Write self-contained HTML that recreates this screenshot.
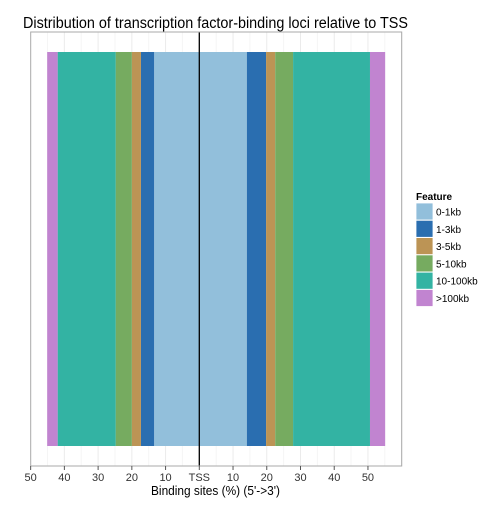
<!DOCTYPE html>
<html><head><meta charset="utf-8"><style>
body{margin:0;background:#fff;font-family:"Liberation Sans",Arial,sans-serif;}
svg text{font-family:"Liberation Sans",Arial,sans-serif;}
</style></head><body>
<svg id="c" width="504" height="504" xmlns="http://www.w3.org/2000/svg"></svg>
<script>
const features=["0-1kb","1-3kb","3-5kb","5-10kb","10-100kb",">100kb"];
const colors=["#92bfdb","#2a6eb0","#bc9455","#76ab60","#33b3a3","#c184d0"];
const upstream=[13.4,3.9,2.7,4.8,17.2,3.1];
const downstream=[14.1,5.7,2.7,5.3,22.8,4.5];
const tickVals=[-50,-40,-30,-20,-10,0,10,20,30,40,50];
const tickLabels=["50","40","30","20","10","TSS","10","20","30","40","50"];
const NS="http://www.w3.org/2000/svg";
const svg=document.getElementById('c');
const P={l:30.7,r:401.7,t:32,b:466};
const x0=199.3,k=3.373;
const X=v=>x0+v*k;
function el(t,a,p){const e=document.createElementNS(NS,t);for(const n in a)e.setAttribute(n,a[n]);(p||svg).appendChild(e);return e;}
const panel=el('rect',{x:P.l,y:P.t,width:P.r-P.l,height:P.b-P.t,fill:'#fff'});


for(let v=-50;v<=60;v+=5){const x=X(v);if(x<=P.l||x>=P.r)continue;
 const g=el('line',{x1:x,x2:x,y1:P.t,y2:P.b,stroke:v%10===0?'#ebebeb':'#f5f5f5','stroke-width':1});
 
 }
const yT=52,yB=446;
function stack(arr,dir,side){let c=0;arr.forEach((v,i)=>{const a=X(dir*c),b=X(dir*(c+v));c+=v;
 const r=el('rect',{x:Math.min(a,b),y:yT,width:Math.abs(b-a),height:yB-yT,fill:colors[i]});
 
 });}
stack(upstream,-1,'upstream');stack(downstream,1,'downstream');
const tl=el('line',{x1:x0,x2:x0,y1:P.t,y2:P.b,stroke:'#000','stroke-width':1.3});


const br=el('rect',{x:P.l,y:P.t,width:P.r-P.l,height:P.b-P.t,fill:'none',stroke:'#aaa','stroke-width':1});


tickVals.forEach((v,i)=>{const x=X(v);
 const t=el('line',{x1:x,x2:x,y1:P.b,y2:P.b+4,stroke:'#555'});
 
 
 const l=el('text',{x:x,y:P.b+15,'font-size':11,fill:'#333','text-anchor':'middle'});l.textContent=tickLabels[i];
 
 });
const xt=el('text',{x:151,y:495,'font-size':12.5,fill:'#000',textLength:129,lengthAdjust:'spacingAndGlyphs'});xt.textContent="Binding sites (%) (5'->3')";


const tt=el('text',{x:23,y:28,'font-size':15.5,fill:'#000',textLength:385,lengthAdjust:'spacingAndGlyphs'});tt.textContent="Distribution of transcription factor-binding loci relative to TSS";


const lt=el('text',{x:416,y:200,'font-size':10,'font-weight':'bold',fill:'#000'});lt.textContent="Feature";


features.forEach((f,i)=>{const y=203+i*17.3;
 const r=el('rect',{x:416,y:y,width:17,height:17,fill:colors[i],stroke:'#fff','stroke-width':0.8});
 
 
 const t=el('text',{x:436,y:y+12.5,'font-size':10,fill:'#000'});t.textContent=f;
 
 });
</script>
</body></html>
